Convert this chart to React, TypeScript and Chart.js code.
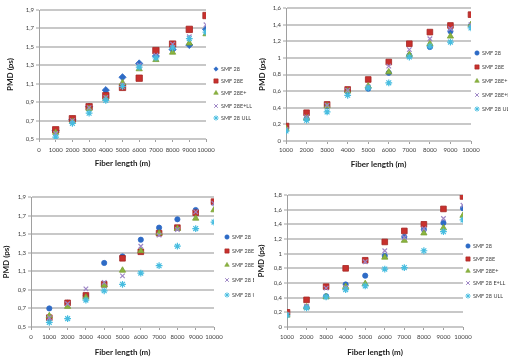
import React, { useEffect, useRef } from 'react';
import { Chart, registerables } from 'chart.js';
import { drawPoint } from 'chart.js/helpers';

Chart.register(...registerables);

// ---------- data ----------
const fiberLengths = [1000, 2000, 3000, 4000, 5000, 6000, 7000, 8000, 9000, 10000];

const legendA = ['SMF 28', 'SMF 28E', 'SMF 28E+', 'SMF 28E+LL', 'SMF 28 ULL'];
const legendB = ['SMF 28', 'SMF 28E', 'SMF 28E+', 'SMF 28 E+LL', 'SMF 28 ULL'];

// top-left panel
const smf28_a = [0.59, 0.71, 0.85, 1.03, 1.17, 1.32, 1.40, 1.47, 1.52, 1.69];
const smf28E_a = [0.60, 0.72, 0.85, 0.97, 1.06, 1.16, 1.46, 1.53, 1.69, 1.84];
const smf28Ep_a = [0.57, 0.69, 0.83, 0.94, 1.11, 1.26, 1.36, 1.44, 1.54, 1.64];
const smf28EpLL_a = [0.56, 0.70, 0.84, 0.95, 1.09, 1.30, 1.41, 1.53, 1.61, 1.74];
const smf28ULL_a = [0.52, 0.67, 0.78, 0.92, 1.07, 1.28, 1.38, 1.49, 1.59, 1.66];

// top-right panel
const smf28_b = [0.16, 0.27, 0.42, 0.59, 0.63, 0.82, 1.03, 1.13, 1.32, 1.39];
const smf28E_b = [0.18, 0.34, 0.44, 0.62, 0.74, 0.95, 1.17, 1.31, 1.39, 1.52];
const smf28Ep_b = [0.15, 0.275, 0.42, 0.60, 0.66, 0.83, 1.04, 1.17, 1.26, 1.40];
const smf28EpLL_b = [0.14, 0.29, 0.43, 0.61, 0.65, 0.90, 1.10, 1.23, 1.35, 1.40];
const smf28ULL_b = [0.12, 0.25, 0.35, 0.55, 0.64, 0.70, 1.01, 1.14, 1.19, 1.36];

// bottom-left panel
const smf28_c = [0.70, 0.76, 0.84, 1.19, 1.26, 1.44, 1.57, 1.66, 1.76, 1.84];
const smf28E_c = [0.60, 0.76, 0.84, 0.96, 1.24, 1.31, 1.51, 1.57, 1.73, 1.85];
const smf28Ep_c = [0.62, 0.72, 0.82, 0.95, 1.11, 1.32, 1.51, 1.56, 1.67, 1.76];
const smf28EpLL_c = [0.60, 0.75, 0.91, 0.98, 1.05, 1.37, 1.49, 1.55, 1.74, 1.83];
const smf28ULL_c = [0.55, 0.59, 0.79, 0.89, 0.96, 1.08, 1.16, 1.37, 1.56, 1.63];

// bottom-right panel
const smf28_d = [0.18, 0.27, 0.42, 0.58, 0.70, 0.97, 1.23, 1.33, 1.42, 1.62];
const smf28E_d = [0.20, 0.37, 0.55, 0.80, 0.91, 1.16, 1.31, 1.40, 1.61, 1.78];
const smf28Ep_d = [0.16, 0.27, 0.41, 0.55, 0.59, 0.95, 1.18, 1.28, 1.35, 1.52];
const smf28EpLL_d = [0.17, 0.28, 0.53, 0.54, 0.89, 1.04, 1.22, 1.34, 1.48, 1.66];
const smf28ULL_d = [0.16, 0.26, 0.41, 0.51, 0.56, 0.79, 0.81, 1.04, 1.30, 1.46];

// ---------- styles ----------
const FONT = 'Lato, "Liberation Sans", Arial, sans-serif';
const COLORS = ['#2E6BC6', '#C8312E', '#8BB53F', '#9E86C6', '#47BDE0'];
const BORDERS = ['#2E6BC6', '#A52622', '#7AA034', '#9E86C6', '#47BDE0'];

type Panel = {
  left: number; top: number; width: number; height: number;
  area: { l: number; r: number; t: number; b: number };
  xMin: number; xMax: number; yMin: number; yMax: number;
  yTitlePad: number; xTitlePad: number; xTickPad: number;
  legendX: number; legendYs: number[]; labels: string[];
  series: number[][];
  firstStyle: string;
  squareR: number;
};

const panels: Panel[] = [
  {
    left: 0, top: 0, width: 254, height: 180,
    area: { l: 39, r: 206, t: 10, b: 139 },
    xMin: 0, xMax: 10000, yMin: 0.5, yMax: 1.9,
    yTitlePad: 6, xTitlePad: 13, xTickPad: 4,
    legendX: 216, legendYs: [69, 81, 93, 106, 118], labels: legendA,
    series: [smf28_a, smf28E_a, smf28Ep_a, smf28EpLL_a, smf28ULL_a],
    firstStyle: 'rectRot', squareR: 4.5,
  },
  {
    left: 254, top: 0, width: 254, height: 180,
    area: { l: 286, r: 471, t: 8, b: 141 },
    xMin: 1000, xMax: 10000, yMin: 0, yMax: 1.6,
    yTitlePad: 4, xTitlePad: 12, xTickPad: 2,
    legendX: 223, legendYs: [53, 67, 81, 95, 109], labels: legendA,
    series: [smf28_b, smf28E_b, smf28Ep_b, smf28EpLL_b, smf28ULL_b],
    firstStyle: 'circle', squareR: 4,
  },
  {
    left: 0, top: 180, width: 254, height: 179,
    area: { l: 31, r: 214, t: 197, b: 327 },
    xMin: 0, xMax: 10000, yMin: 0.5, yMax: 1.9,
    yTitlePad: 2, xTitlePad: 3, xTickPad: 3.5,
    legendX: 227, legendYs: [57, 71, 85, 100, 115], labels: legendB,
    series: [smf28_c, smf28E_c, smf28Ep_c, smf28EpLL_c, smf28ULL_c],
    firstStyle: 'circle', squareR: 4,
  },
  {
    left: 254, top: 180, width: 254, height: 179,
    area: { l: 287, r: 463, t: 195, b: 327 },
    xMin: 1000, xMax: 10000, yMin: 0, yMax: 1.8,
    yTitlePad: 3, xTitlePad: 3, xTickPad: 3.5,
    legendX: 214, legendYs: [66, 79, 91, 103, 116], labels: legendB,
    series: [smf28_d, smf28E_d, smf28Ep_d, smf28EpLL_d, smf28ULL_d],
    firstStyle: 'circle', squareR: 4,
  },
];

function fmtY(v: number): string {
  if (Math.abs(v - Math.round(v)) < 1e-9) return String(Math.round(v));
  return v.toFixed(1).replace('.', ',');
}

function PanelChart({ p }: { p: Panel }) {
  const ref = useRef<HTMLCanvasElement | null>(null);
  useEffect(() => {
    const localL = p.area.l - p.left;
    const localR = p.area.r - p.left;
    const localT = p.area.t - p.top;
    const localB = p.area.b - p.top;
    const styles = [p.firstStyle, 'rect', 'triangle', 'crossRot', 'star'];
    const radii = [p.firstStyle === 'rectRot' ? 3.6 : 2.6, p.squareR, 3.6, 3.2, 3.4];
    const datasets = p.series.map((vals, i) => ({
      label: p.labels[i],
      data: fiberLengths.map((x, j) => ({ x, y: vals[j] })),
      pointStyle: styles[i],
      pointRadius: radii[i],
      backgroundColor: COLORS[i],
      borderColor: BORDERS[i],
      borderWidth: i >= 3 ? 1.2 : 0.8,
      showLine: false,
      order: 4 - i,
    }));

    const legendPlugin = {
      id: 'sideLegend',
      afterDraw(chart: any) {
        const ctx = chart.ctx as CanvasRenderingContext2D;
        ctx.save();
        ctx.font = `5.5px ${FONT}`;
        ctx.textBaseline = 'middle';
        ctx.textAlign = 'left';
        p.labels.forEach((lab, i) => {
          const y = p.legendYs[i];
          ctx.fillStyle = COLORS[i];
          ctx.strokeStyle = BORDERS[i];
          ctx.lineWidth = i >= 3 ? 1 : 0.6;
          const r = i === 1 ? 3 : i === 0 ? 2.2 : 2.6;
          drawPoint(ctx, { pointStyle: styles[i], radius: r, rotation: 0, borderWidth: i >= 3 ? 1 : 0.6 } as any, p.legendX, y);
          ctx.fillStyle = '#404040';
          ctx.fillText(lab, p.legendX + 5, y);
        });
        ctx.restore();
      },
    };

    const chart = new Chart(ref.current as HTMLCanvasElement, {
      type: 'scatter',
      data: { datasets: datasets as any },
      options: {
        responsive: false,
        animation: false,
        devicePixelRatio: 1,
        layout: { padding: { left: 0, top: localT, right: p.width - localR, bottom: 0 } },
        plugins: { legend: { display: false }, tooltip: { enabled: false } },
        scales: {
          x: {
            type: 'linear',
            min: p.xMin,
            max: p.xMax,
            afterFit: (s: any) => { s.height = p.height - localB; },
            ticks: {
              stepSize: 1000,
              autoSkip: false,
              maxRotation: 0,
              padding: p.xTickPad,
              color: '#404040',
              font: { family: FONT, size: 6 },
              callback: (v: any) => String(v),
            },
            grid: { drawOnChartArea: false, drawTicks: true, tickLength: 3, color: '#A0A0A0', lineWidth: 1 },
            border: { display: false },
            title: {
              display: true,
              text: 'Fiber length (m)',
              color: '#1a1a1a',
              font: { family: FONT, size: 8, weight: 'bold', lineHeight: 1 },
              padding: { top: 0, bottom: p.xTitlePad },
            },
          },
          y: {
            type: 'linear',
            min: p.yMin,
            max: p.yMax,
            afterFit: (s: any) => { s.width = localL; },
            ticks: {
              stepSize: 0.2,
              padding: 2,
              color: '#404040',
              font: { family: FONT, size: 6 },
              callback: (v: any) => fmtY(Number(v)),
            },
            grid: { color: '#C8C8C8', lineWidth: 2, drawTicks: true, tickLength: 3, tickColor: '#A0A0A0', tickWidth: 1 },
            border: { display: true, color: '#A0A0A0', width: 1 },
            title: {
              display: true,
              text: 'PMD (ps)',
              color: '#1a1a1a',
              font: { family: FONT, size: 8, weight: 'bold', lineHeight: 1 },
              padding: { top: p.yTitlePad, bottom: 0 },
            },
          },
        },
      } as any,
      plugins: [legendPlugin],
    });
    return () => chart.destroy();
  }, []);
  return (
    <canvas
      ref={ref}
      width={p.width}
      height={p.height}
      style={{ position: 'absolute', left: p.left, top: p.top, width: p.width, height: p.height }}
    />
  );
}

export default function App() {
  return (
    <div style={{ position: 'absolute', left: 0, top: 0, width: 508, height: 359, background: '#ffffff', overflow: 'hidden' }}>
      {panels.map((p, i) => <PanelChart key={i} p={p} />)}
    </div>
  );
}
